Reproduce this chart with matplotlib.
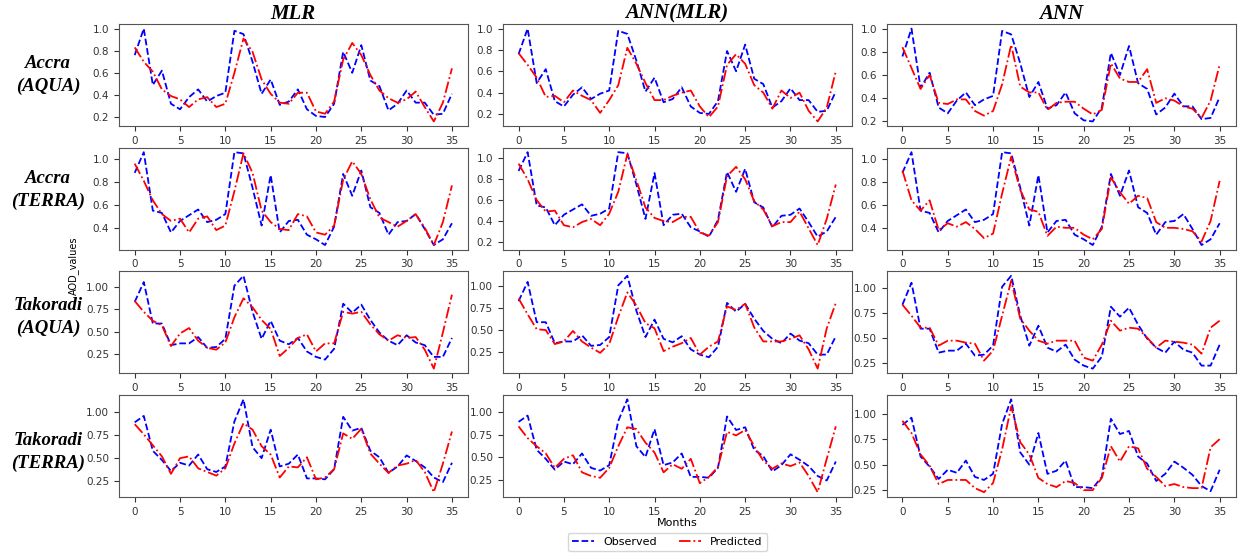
import matplotlib
matplotlib.use("Agg")
import matplotlib.pyplot as plt
from matplotlib.ticker import MultipleLocator
import numpy as np

months = np.arange(36)

models = ["MLR", "ANN(MLR)", "ANN"]
sites = ["Accra\n(AQUA)", "Accra\n(TERRA)", "Takoradi\n(AQUA)", "Takoradi\n(TERRA)"]

# observed AOD, one list per site (same in every column)
obs_accra_aqua = [0.76, 1.00, 0.49, 0.62, 0.32, 0.27, 0.38, 0.45, 0.34, 0.39, 0.42, 0.98,
                  0.95, 0.70, 0.41, 0.54, 0.31, 0.34, 0.45, 0.27, 0.21, 0.20, 0.32, 0.79,
                  0.60, 0.85, 0.53, 0.48, 0.26, 0.32, 0.44, 0.33, 0.33, 0.22, 0.23, 0.41]
obs_accra_terra = [0.88, 1.06, 0.55, 0.53, 0.36, 0.46, 0.51, 0.56, 0.45, 0.47, 0.52, 1.06,
                   1.05, 0.75, 0.42, 0.86, 0.36, 0.46, 0.47, 0.34, 0.30, 0.25, 0.41, 0.87,
                   0.68, 0.90, 0.58, 0.53, 0.34, 0.45, 0.46, 0.52, 0.39, 0.25, 0.30, 0.44]
obs_tak_aqua = [0.83, 1.05, 0.59, 0.59, 0.35, 0.37, 0.37, 0.44, 0.32, 0.33, 0.42, 1.01,
                1.12, 0.72, 0.42, 0.62, 0.40, 0.36, 0.43, 0.28, 0.22, 0.19, 0.31, 0.81,
                0.71, 0.80, 0.63, 0.49, 0.40, 0.35, 0.46, 0.38, 0.35, 0.22, 0.22, 0.43]
obs_tak_terra = [0.89, 0.96, 0.58, 0.48, 0.36, 0.45, 0.42, 0.54, 0.38, 0.35, 0.41, 0.90,
                 1.14, 0.62, 0.50, 0.81, 0.41, 0.44, 0.54, 0.28, 0.28, 0.27, 0.38, 0.95,
                 0.80, 0.83, 0.58, 0.51, 0.34, 0.41, 0.53, 0.47, 0.40, 0.29, 0.24, 0.45]

# predicted AOD
mlr_accra_aqua = [0.83, 0.70, 0.61, 0.45, 0.39, 0.36, 0.29, 0.36, 0.38, 0.29, 0.32, 0.60,
                  0.91, 0.79, 0.54, 0.41, 0.33, 0.32, 0.42, 0.42, 0.25, 0.23, 0.34, 0.72,
                  0.87, 0.76, 0.58, 0.44, 0.37, 0.33, 0.36, 0.43, 0.29, 0.16, 0.33, 0.64]
annmlr_accra_aqua = [0.77, 0.66, 0.54, 0.36, 0.37, 0.31, 0.42, 0.37, 0.33, 0.21, 0.33, 0.47,
                     0.82, 0.67, 0.49, 0.33, 0.33, 0.37, 0.40, 0.42, 0.27, 0.17, 0.27, 0.66,
                     0.76, 0.67, 0.47, 0.40, 0.25, 0.42, 0.35, 0.40, 0.23, 0.13, 0.26, 0.60]
ann_accra_aqua = [0.84, 0.66, 0.48, 0.60, 0.36, 0.35, 0.39, 0.39, 0.29, 0.25, 0.29, 0.52,
                  0.86, 0.50, 0.45, 0.45, 0.30, 0.36, 0.37, 0.37, 0.31, 0.26, 0.30, 0.70,
                  0.57, 0.54, 0.54, 0.65, 0.36, 0.40, 0.38, 0.33, 0.31, 0.23, 0.38, 0.69]

mlr_accra_terra = [0.96, 0.81, 0.64, 0.52, 0.46, 0.48, 0.36, 0.48, 0.50, 0.38, 0.42, 0.72,
                   1.05, 0.88, 0.55, 0.45, 0.39, 0.38, 0.52, 0.50, 0.36, 0.34, 0.42, 0.82,
                   0.98, 0.87, 0.65, 0.49, 0.45, 0.41, 0.46, 0.52, 0.40, 0.25, 0.45, 0.77]
annmlr_accra_terra = [0.95, 0.80, 0.60, 0.49, 0.50, 0.36, 0.34, 0.39, 0.42, 0.36, 0.47, 0.68,
                      1.04, 0.79, 0.53, 0.43, 0.40, 0.39, 0.44, 0.44, 0.29, 0.26, 0.39, 0.83,
                      0.92, 0.80, 0.59, 0.51, 0.35, 0.39, 0.39, 0.49, 0.33, 0.17, 0.42, 0.75]
ann_accra_terra = [0.90, 0.64, 0.55, 0.64, 0.38, 0.44, 0.41, 0.45, 0.39, 0.31, 0.35, 0.70,
                   1.02, 0.73, 0.56, 0.54, 0.33, 0.41, 0.40, 0.40, 0.34, 0.30, 0.39, 0.84,
                   0.71, 0.61, 0.68, 0.66, 0.45, 0.40, 0.40, 0.39, 0.37, 0.28, 0.46, 0.81]

mlr_tak_aqua = [0.84, 0.72, 0.62, 0.57, 0.34, 0.48, 0.54, 0.40, 0.32, 0.30, 0.38, 0.66,
                0.87, 0.77, 0.63, 0.53, 0.23, 0.32, 0.43, 0.47, 0.28, 0.37, 0.37, 0.72,
                0.70, 0.72, 0.58, 0.47, 0.40, 0.46, 0.43, 0.44, 0.30, 0.09, 0.49, 0.91]
annmlr_tak_aqua = [0.86, 0.68, 0.51, 0.50, 0.34, 0.37, 0.49, 0.37, 0.30, 0.24, 0.34, 0.65,
                   0.93, 0.78, 0.58, 0.52, 0.26, 0.31, 0.35, 0.41, 0.22, 0.31, 0.37, 0.77,
                   0.73, 0.80, 0.53, 0.37, 0.37, 0.37, 0.40, 0.44, 0.28, 0.06, 0.52, 0.81]
ann_tak_aqua = [0.83, 0.72, 0.60, 0.60, 0.42, 0.47, 0.47, 0.45, 0.44, 0.27, 0.37, 0.72,
                1.07, 0.69, 0.57, 0.47, 0.44, 0.47, 0.47, 0.47, 0.30, 0.27, 0.43, 0.67,
                0.57, 0.60, 0.59, 0.50, 0.40, 0.47, 0.46, 0.45, 0.43, 0.34, 0.60, 0.67]

mlr_tak_terra = [0.87, 0.76, 0.64, 0.52, 0.33, 0.50, 0.52, 0.39, 0.35, 0.31, 0.39, 0.66,
                 0.88, 0.81, 0.63, 0.54, 0.29, 0.41, 0.40, 0.51, 0.27, 0.29, 0.38, 0.77,
                 0.71, 0.82, 0.55, 0.44, 0.34, 0.42, 0.44, 0.48, 0.35, 0.13, 0.44, 0.79]
annmlr_tak_terra = [0.84, 0.71, 0.62, 0.54, 0.38, 0.48, 0.52, 0.33, 0.29, 0.27, 0.38, 0.62,
                    0.83, 0.81, 0.66, 0.55, 0.33, 0.42, 0.37, 0.48, 0.21, 0.28, 0.39, 0.78,
                    0.74, 0.80, 0.62, 0.46, 0.37, 0.43, 0.40, 0.44, 0.29, 0.11, 0.48, 0.84]
ann_tak_terra = [0.93, 0.81, 0.60, 0.49, 0.31, 0.35, 0.35, 0.35, 0.27, 0.23, 0.32, 0.65,
                 1.07, 0.72, 0.60, 0.37, 0.31, 0.28, 0.34, 0.32, 0.25, 0.25, 0.37, 0.68,
                 0.53, 0.68, 0.66, 0.46, 0.38, 0.29, 0.31, 0.28, 0.27, 0.27, 0.67, 0.75]

observed = [obs_accra_aqua, obs_accra_terra, obs_tak_aqua, obs_tak_terra]
predicted = [
    [mlr_accra_aqua, annmlr_accra_aqua, ann_accra_aqua],
    [mlr_accra_terra, annmlr_accra_terra, ann_accra_terra],
    [mlr_tak_aqua, annmlr_tak_aqua, ann_tak_aqua],
    [mlr_tak_terra, annmlr_tak_terra, ann_tak_terra],
]

# y tick step per row
ystep = [0.2, 0.2, 0.25, 0.25]
# vertical centre of each row label, in figure pixels from top
label_y = [75, 190, 317, 452]

fig, axes = plt.subplots(4, 3, figsize=(12.38, 5.57), dpi=100)
fig.subplots_adjust(left=0.096, right=0.998, top=0.957, bottom=0.108,
                    wspace=0.1, hspace=0.21)

serif = dict(family="Liberation Serif", fontweight="bold", fontstyle="italic")

for i in range(4):
    for j in range(3):
        ax = axes[i, j]
        l1, = ax.plot(months, observed[i], "b--", lw=1.3, label="Observed")
        l2, = ax.plot(months, predicted[i][j], "r-.", lw=1.3, label="Predicted")
        ax.set_xticks([0, 5, 10, 15, 20, 25, 30, 35])
        ax.yaxis.set_major_locator(MultipleLocator(ystep[i]))
        ax.tick_params(labelsize=7.5, colors="#333333")
        for s in ax.spines.values():
            s.set_color("#555555")
        if i == 0:
            ax.set_title(models[j], fontsize=15, pad=3, **serif)

for name, yp in zip(sites, label_y):
    fig.text(0.039, 1 - yp / 557, name, ha="center", va="center",
             fontsize=13.5, linespacing=1.5, **serif)

fig.text(0.059, 1 - 266 / 557, "AOD_values", rotation=90, ha="center", va="center",
         fontsize=7)
axes[3, 1].set_xlabel("Months", fontsize=8, labelpad=1)

fig.legend([l1, l2], ["Observed", "Predicted"], loc="lower center", ncol=2,
           bbox_to_anchor=(0.539, 0.0), fontsize=8, frameon=True)

plt.savefig("out.png", dpi=100)
